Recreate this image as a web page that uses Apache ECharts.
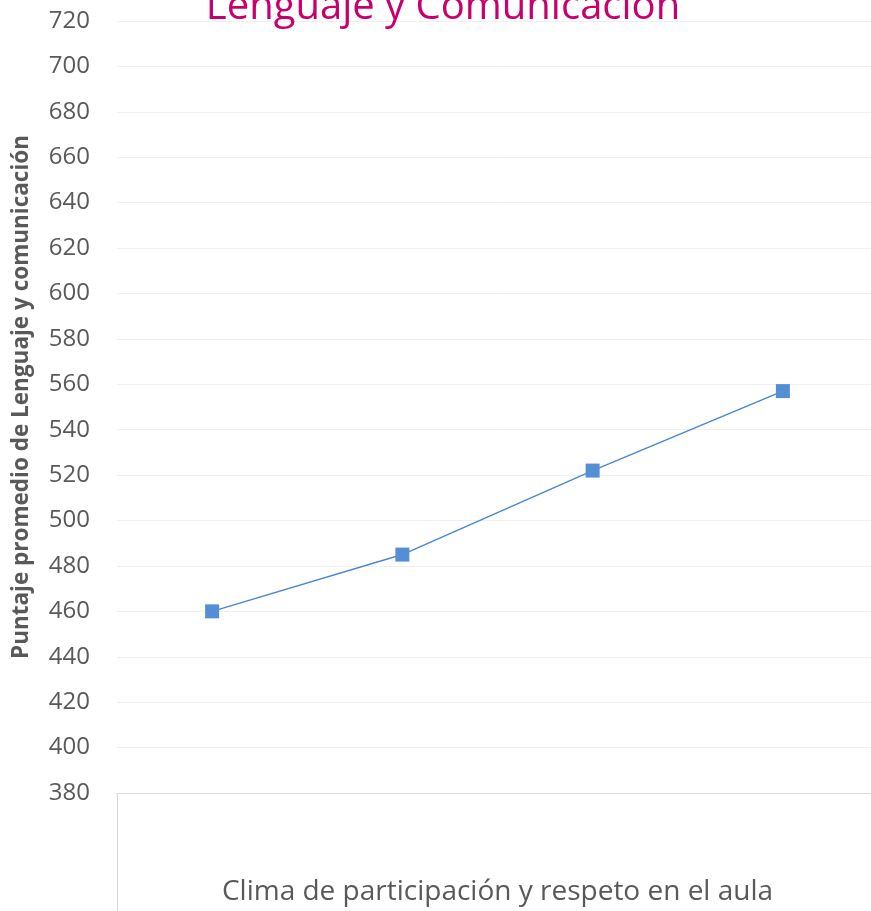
<!DOCTYPE html>
<html>
<head>
<meta charset="utf-8">
<script src="https://cdn.jsdelivr.net/npm/echarts@6/dist/echarts.min.js"></script>
<style>html,body{margin:0;padding:0;background:#fff;overflow:hidden;width:871px;height:911px}#c{position:absolute;left:0;top:0;width:878px;height:911px}</style>
</head>
<body>
<div id="c"></div>
<script>
var titleText = 'Lenguaje y Comunicación';
var xName = 'Clima de participación y respeto en el aula';
var yName = 'Puntaje promedio de Lenguaje y comunicación';
var categories = ['1', '2', '3', '4'];
var scores = [460, 485, 522, 557];
var yMin = 380, yMax = 720, yStep = 20;

var chart = echarts.init(document.getElementById('c'));
chart.setOption({
  animation: false,
  title: {
    text: titleText,
    left: 438, textAlign: 'center', top: -17,
    textStyle: { color: '#C8006E', fontSize: 40, fontWeight: 'normal', fontFamily: 'Open Sans, sans-serif' }
  },
  grid: { left: 117, right: 0, top: 21, bottom: 118 },
  xAxis: {
    type: 'category', data: categories, boundaryGap: true,
    name: xName, nameLocation: 'middle', nameGap: 85,
    nameTextStyle: { color: '#595959', fontSize: 28, fontFamily: 'Open Sans, sans-serif' },
    axisLine: { show: true, lineStyle: { color: '#d9d9d9', width: 1 } },
    axisTick: { show: true, length: 120, lineStyle: { color: '#d9d9d9' }, interval: function (i) { return i === 0; } },
    axisLabel: { show: false }
  },
  yAxis: {
    type: 'value', min: yMin, max: yMax, interval: yStep,
    name: yName, nameLocation: 'middle', nameGap: 84, nameRotate: 90,
    nameTextStyle: { color: '#595959', fontSize: 22.5, fontWeight: 'bold', fontFamily: 'Open Sans, sans-serif', padding: [0, 0, 0, 20] },
    axisLine: { show: false }, axisTick: { show: false },
    axisLabel: { color: '#595959', fontSize: 24, margin: 27, fontFamily: 'Open Sans, sans-serif' },
    splitLine: { lineStyle: { color: '#efefef', width: 1 } }
  },
  series: [{
    type: 'line', data: scores,
    symbol: 'rect', symbolSize: 14,
    itemStyle: { color: '#558ED5' },
    lineStyle: { color: '#4A86D4', width: 1.5 }
  }]
});
</script>
</body>
</html>
